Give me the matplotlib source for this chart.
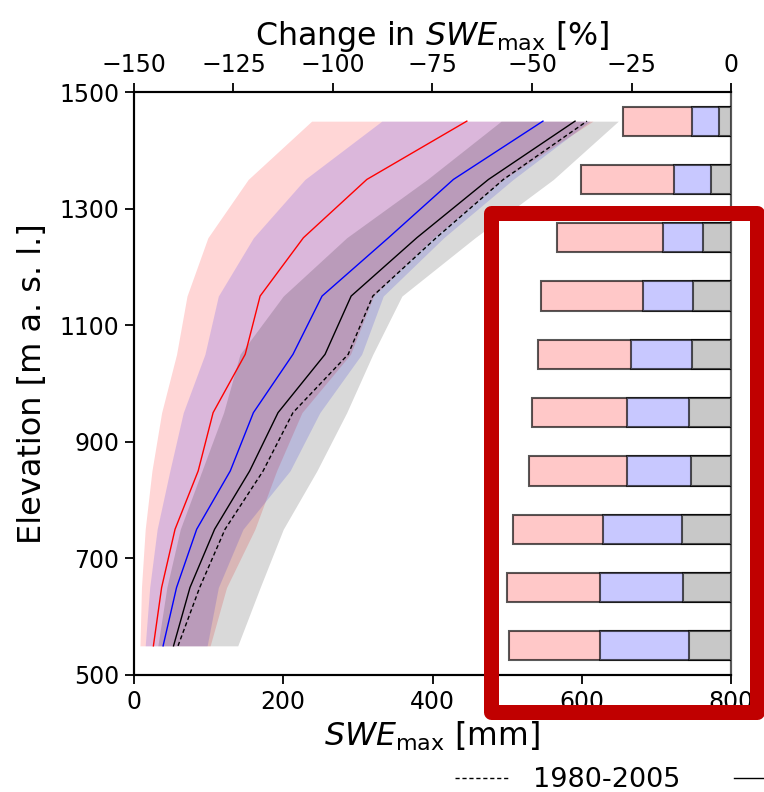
import matplotlib
matplotlib.use("Agg")
import matplotlib.pyplot as plt
from matplotlib.lines import Line2D
from matplotlib.patches import Rectangle

# Elevation bands (m a.s.l.)
elevation = [550, 650, 750, 850, 950, 1050, 1150, 1250, 1350, 1450]

# Mean SWEmax per elevation band (mm)
swe_ref = [59, 88, 122, 173, 213, 287, 320, 405, 495, 607]      # 1980-2005
swe_black = [53, 75, 108, 155, 193, 256, 291, 379, 475, 591]
swe_blue = [39, 57, 84, 129, 160, 213, 252, 341, 428, 548]
swe_red = [26, 37, 55, 86, 106, 149, 169, 227, 312, 446]

# Spread of SWEmax (mm)
red_lo = [8, 10, 15, 24, 37, 57, 71, 99, 153, 238]
red_hi = [102, 124, 162, 191, 225, 290, 321, 401, 495, 615]
blue_lo = [15, 21, 31, 48, 66, 95, 113, 160, 229, 332]
blue_hi = [98, 113, 146, 209, 249, 305, 334, 415, 508, 611]
grey_lo = [32, 44, 62, 91, 120, 142, 200, 285, 393, 492]
grey_hi = [139, 169, 200, 245, 285, 320, 359, 457, 562, 649]

# Change in SWEmax relative to 1980-2005 (%)
change_red = [-55.8, -56.3, -54.8, -50.8, -50.0, -48.5, -47.7, -43.7, -37.7, -27.1]
change_blue = [-32.9, -32.9, -32.2, -26.1, -26.1, -25.1, -22.1, -17.1, -14.3, -9.8]
change_black = [-10.6, -12.1, -12.3, -10.1, -10.6, -9.8, -9.5, -7.0, -5.0, -3.0]

swe_ticks = [0, 200, 400, 600, 800]
elev_ticks = [500, 700, 900, 1100, 1300, 1500]
change_ticks = [-150, -125, -100, -75, -50, -25, 0]

W, H = 764, 792
fig = plt.figure(figsize=(W / 100, H / 100), dpi=100)
ax = fig.add_axes([134 / W, 1 - 675 / H, (731 - 134) / W, (675 - 92) / H])

ax.fill_betweenx(elevation, red_lo, red_hi, color=(1, 0, 0), alpha=0.16, lw=0)
ax.fill_betweenx(elevation, blue_lo, blue_hi, color=(0, 0, 1), alpha=0.14, lw=0)
ax.fill_betweenx(elevation, grey_lo, grey_hi, color=(0, 0, 0), alpha=0.15, lw=0)

ax.plot(swe_red, elevation, color='red', lw=1.0)
ax.plot(swe_blue, elevation, color='blue', lw=1.0)
ax.plot(swe_black, elevation, color='black', lw=1.0)
ax.plot(swe_ref, elevation, color='black', lw=1.0, ls=(0, (3, 2)))

tick_kw = dict(direction='out', length=6.5, width=1.3, labelsize=17, pad=4)

ax.set_xlim(0, 800)
ax.set_ylim(500, 1500)
ax.set_xticks(swe_ticks)
ax.set_yticks(elev_ticks)
ax.set_xlabel(r'$\mathit{SWE}_{\mathrm{max}}$ [mm]', fontsize=22.8, labelpad=4)
ax.set_ylabel('Elevation [m a. s. l.]', fontsize=23, labelpad=8)
ax.tick_params(**tick_kw)

ax2 = ax.twiny()
ax2.set_xlim(-150, 0)
ax2.set_xticks(change_ticks)
ax2.tick_params(**tick_kw)
ax2.set_xlabel(r'Change in $\mathit{SWE}_{\mathrm{max}}$ [%]', fontsize=22.8, labelpad=6)

bar_h = 50
edge = (0, 0, 0, 0.65)
ax2.barh(elevation, change_red, height=bar_h, left=0, color='#ffc8c8',
         edgecolor=edge, lw=1.5, zorder=3)
ax2.barh(elevation, change_blue, height=bar_h, left=0, color='#c8c8ff',
         edgecolor=edge, lw=1.5, zorder=4)
ax2.barh(elevation, change_black, height=bar_h, left=0, color='#c8c8c8',
         edgecolor=edge, lw=1.5, zorder=5)

for a in (ax, ax2):
    for s in a.spines.values():
        s.set_linewidth(1.5)
    a.spines['right'].set_color('0.35')

handles = [Line2D([], [], color='black', lw=1.0, ls=(0, (3, 2))),
           Line2D([], [], color='black', lw=1.0)]
fig.legend(handles, ['1980-2005', ''], loc='center left',
           bbox_to_anchor=(455 / W, 1 - 780 / H), ncol=2, frameon=False,
           fontsize=19.5, handlelength=1.95, handletextpad=0.92,
           columnspacing=2.0, borderpad=0, borderaxespad=0)

frame = Rectangle((490.5 / W, 1 - 711.5 / H), (757 - 490.5) / W, (711.5 - 212.5) / H,
                  transform=fig.transFigure, fill=False, edgecolor='#c00000',
                  lw=10.8, joinstyle='round', clip_on=False, zorder=10)
fig.add_artist(frame)

fig.savefig('out.png', dpi=100)
